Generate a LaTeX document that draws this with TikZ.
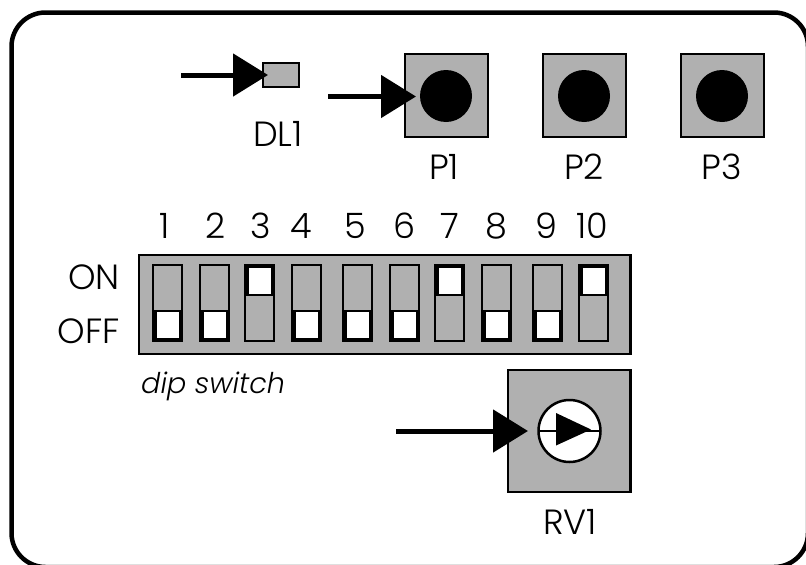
\documentclass[tikz,border=0pt]{standalone}
\usepackage{fontspec}
\setmainfont{Poppins Light}[ItalicFont={Poppins Light Italic}]
\usetikzlibrary{arrows.meta}

\tikzset{
  body/.style={draw=black, fill=panelgray, line width=2.5pt},
  pointer/.style={line width=5pt, -{Triangle[length=35pt,width=42pt]}},
  caption/.style={anchor=base, inner sep=0pt, font=\fontsize{35}{35}\selectfont},
  slotbox/.style={draw=black, fill=panelgray, line width=2pt}
}
\definecolor{panelgray}{gray}{0.69}

\begin{document}
\begin{tikzpicture}[x=1pt,y=-1pt]

  \useasboundingbox (0,0) rectangle (806,565);

  % --- Frame ---
  \draw[line width=4.5pt, rounded corners=34pt] (11.5,12.5) rectangle (808,567);

  % --- Points ---
  \coordinate (ledstart) at (181,75);
  \coordinate (ledtip) at (268,75);
  \coordinate (p1start) at (328,96.5);
  \coordinate (p1tip) at (416,96.5);
  \coordinate (rvstart) at (396,431);
  \coordinate (rvtip) at (528,431);

  % --- Led ---
  \draw[body] (263,63) rectangle (299,87);
  \node[caption] (dl1) at (278,146) {DL1};

  % --- Push buttons ---
  \foreach \name/\xa/\cx/\lx in {P1/405/446/444, P2/543/584/584, P3/681/722/722} {
    \draw[body] (\xa,54) rectangle ++(83,83);
    \fill (\cx,96) circle (26);
    \node[caption] (\name) at (\lx,179) {\name};
  }

  % --- Dip switch ---
  \draw[body] (139,255) rectangle (630.5,354);
  \foreach \xa/\num/\cx/\state in {152/1/165/0, 199/2/216/0, 244/3/261/1, 291/4/301/0, 342/5/355/0,
                                   389/6/405/0, 434/7/450/1, 481/8/496/0, 532/9/546/0, 578/10/592/1} {
    \draw[slotbox] (\xa+1,265) rectangle ++(29,76);
    \ifnum\state=1
      \fill (\xa,264) rectangle ++(31,32);
      \fill[white] (\xa+4.5,268) rectangle ++(22,26);
    \else
      \fill (\xa,309.5) rectangle ++(31,32.5);
      \fill[white] (\xa+4.5,312) rectangle ++(22,26);
    \fi
    \node[caption] (num\num) at (\cx,238) {\num};
  }
  \node[caption, anchor=base east] (on) at (120,289) {ON};
  \node[caption, anchor=base east] (off) at (120,343) {OFF};
  \node[caption, anchor=base west, font=\fontsize{28.6}{28.6}\selectfont\itshape] (dip) at (141,393) {dip switch};

  % --- Trimmer ---
  \draw[body] (508,370) rectangle (630.5,492);
  \draw[fill=white, line width=2.5pt] (569.5,431) circle (31);
  \draw[line width=1.5pt] (538.5,431) -- (600.5,431);
  \fill (556,413) -- (591,429.5) -- (556,445.5) -- cycle;
  \node[caption] (rv1) at (570,534) {RV1};

  % --- Arrows ---
  \draw[pointer] (ledstart) -- (ledtip);
  \draw[pointer] (p1start) -- (p1tip);
  \draw[pointer] (rvstart) -- (rvtip);

\end{tikzpicture}
\end{document}
